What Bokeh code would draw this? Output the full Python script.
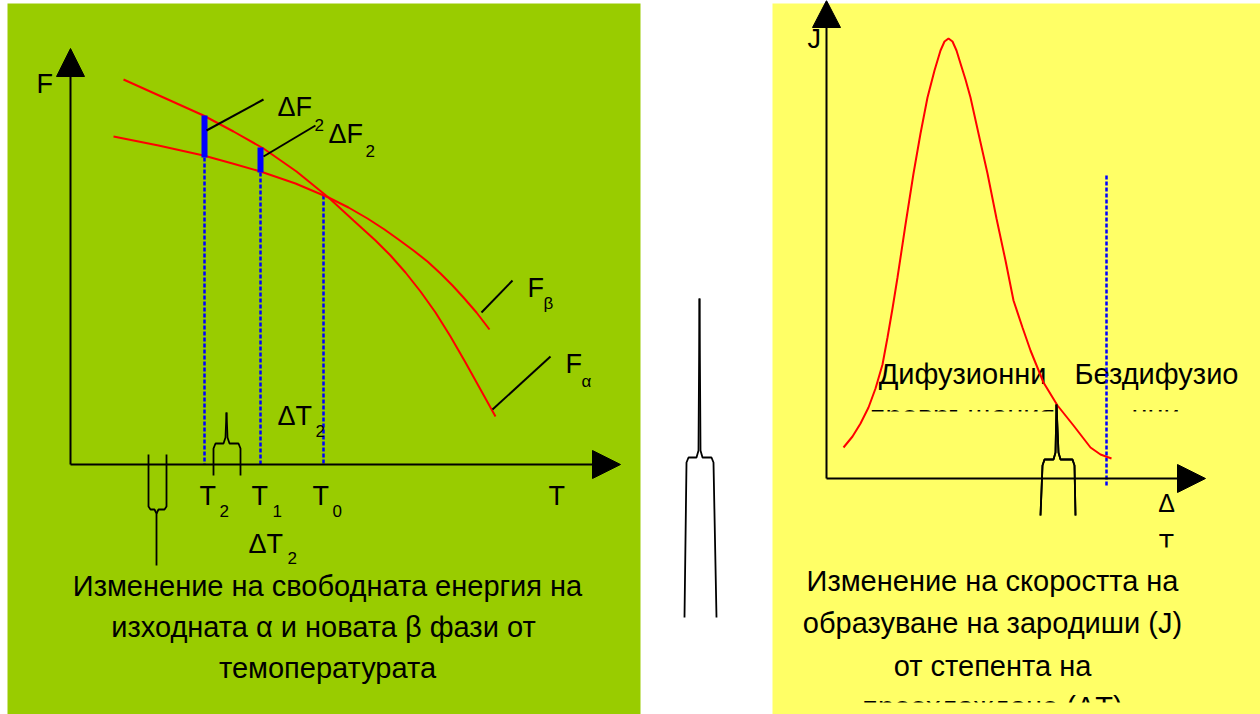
from bokeh.plotting import figure
from bokeh.models import Range1d
from bokeh.core.properties import value
from bokeh.embed import file_html
from bokeh.resources import INLINE

FONT = value("Liberation Sans")

# ---- Left panel: free energy F against temperature T (page pixel frame) ----
f_alpha_x = [123, 163, 203, 233, 263, 296, 328, 353, 375, 390, 405, 420, 435, 450, 465, 480, 495]
f_alpha_y = [79, 97, 115, 131, 148, 171, 197, 220, 240, 255, 272, 291, 312, 336, 362, 389, 416]
f_beta_x = [113, 158, 203, 232, 260, 295, 328, 348, 367, 384, 398, 413, 427, 440, 452, 463, 476, 489]
f_beta_y = [136, 145, 155, 163, 171, 183, 197, 207, 218, 229, 239, 250, 261, 273, 285, 297, 312, 329]

# temperatures T2, T1, T0 on the T axis and the F values the guides start from
t_marks = [204, 260, 323]
t_guide_top = [157, 172, 195]
# free-energy gaps ΔF at T2 and T1
gap_x = [204, 260]
gap_top = [115, 147]
gap_bottom = [157, 172]

# ---- Right panel: nucleation rate J against undercooling ΔT ----
j_x = [843, 852, 860, 868, 875, 882, 887, 892, 897, 905, 913, 920, 927, 934, 940, 944, 948,
       952, 956, 960, 965, 970, 978, 987, 996, 1005, 1013, 1022, 1030, 1043, 1057, 1073,
       1090, 1100, 1111]
j_y = [447, 436, 423, 407, 388, 364, 337, 308, 277, 224, 173, 133, 97, 70, 50, 41, 38,
       41, 50, 63, 79, 97, 133, 173, 218, 260, 300, 327, 350, 382, 405, 425,
       447, 454, 458]
j_limit_x = 1106

GREEN = "#99CC00"
YELLOW = "#FFFF66"
RED = "#FF0000"
BLUE = "#0000FF"

p = figure(width=1260, height=714, x_range=Range1d(0, 1260), y_range=Range1d(714, 0),
           min_border=0, toolbar_location=None, output_backend="svg")
p.axis.visible = False
p.grid.visible = False
p.outline_line_color = None
p.background_fill_color = "white"
p.border_fill_color = "white"

# panels
p.quad(left=[7, 772], right=[640, 1260], top=[3, 3], bottom=[714, 714],
       fill_color=[GREEN, YELLOW], line_color=None)


def label(x, base, s, size=27, align="left"):
    # the svg renderer sets text a little below the requested baseline; lift it
    p.text(x=[x], y=[base - 0.42 * size], text=[s], text_font=FONT,
           text_font_size=f"{size}px", text_baseline="alphabetic",
           text_align=align, text_color="black")


# clipped wrapped labels in the right panel (drawn first, partly hidden below)
label(962, 428, "превръщания", size=29, align="center")
label(1155, 428, "нни", size=29, align="center")
label(1166, 553, "T", size=25, align="center")
label(992, 719, "преохлаждане (ΔT)", size=29, align="center")
p.quad(left=[860, 1150, 780], right=[1190, 1185, 1260], top=[411, 547, 702],
       bottom=[438, 560, 714], fill_color=YELLOW, line_color=None)

# ---- left panel drawing ----
p.segment(x0=t_marks, y0=t_guide_top, x1=t_marks, y1=[464] * 3,
          line_color=BLUE, line_width=2.5, line_dash="4 2")
p.line(f_alpha_x, f_alpha_y, line_color=RED, line_width=2)
p.line(f_beta_x, f_beta_y, line_color=RED, line_width=2)
p.segment(x0=gap_x, y0=gap_top, x1=gap_x, y1=gap_bottom, line_color=BLUE, line_width=6)

# axes with arrow heads
p.segment(x0=[70, 70], y0=[76, 464], x1=[70, 592], y1=[464, 464],
          line_color="black", line_width=2)
p.patches(xs=[[56, 84, 70], [592, 592, 620]], ys=[[76, 76, 48], [450, 478, 464]],
          fill_color="black", line_color="black")

# leader lines
p.segment(x0=[206, 263, 481, 492], y0=[130, 156, 312, 409],
          x1=[263, 315, 512, 550], y1=[99, 125, 280, 356],
          line_color="black", line_width=2)

# braces
brace_xs = [
    [148, 148, 150, 154, 156, 156], [166, 166, 164, 158, 156],
    [213, 213, 215, 223, 225, 226], [240, 240, 238, 229, 227, 226],
    [684, 686, 688, 696, 698, 699], [716, 713, 711, 702, 700, 699],
    [1040, 1042, 1044, 1053, 1055, 1056], [1075, 1074, 1072, 1060, 1058, 1056],
]
brace_ys = [
    [454, 506, 509, 509, 513, 565], [454, 506, 509, 509, 513],
    [475, 448, 443, 443, 437, 412], [475, 448, 443, 443, 437, 412],
    [617, 462, 457, 457, 450, 298], [617, 462, 457, 457, 450, 298],
    [515, 465, 459, 459, 452, 404], [515, 465, 459, 459, 452, 404],
]
p.multi_line(xs=brace_xs, ys=brace_ys, line_color="black", line_width=1.8)

# left panel labels
label(36, 95, "F")
label(277, 118, "ΔF")
label(314, 132, "2", size=17)
label(328, 145, "ΔF")
label(365, 158, "2", size=17)
label(277, 427, "ΔT")
label(315, 438, "2", size=17)
label(199, 507, "T")
label(219, 518, "2", size=17)
label(251, 507, "T")
label(272, 518, "1", size=17)
label(312, 507, "T")
label(332, 518, "0", size=17)
label(548, 507, "T")
label(248, 555, "ΔT")
label(287, 565, "2", size=17)
label(527, 299, "F")
label(543, 310, "β", size=17)
label(565, 375, "F")
label(581, 388, "α", size=17)

label(327, 598, "Изменение на свободната енергия на", size=29, align="center")
label(327, 639, "изходната α и  новата β фази от", size=29, align="center")
label(327, 680, "темопературата", size=29, align="center")

# ---- right panel drawing ----
label(962, 386, "Дифузионни", size=29, align="center")
label(1156, 386, "Бездифузио", size=29, align="center")

p.segment(x0=[j_limit_x], y0=[175], x1=[j_limit_x], y1=[485],
          line_color=BLUE, line_width=2.5, line_dash="4 2")
p.line(j_x, j_y, line_color=RED, line_width=2)

p.segment(x0=[826, 826], y0=[27, 478], x1=[826, 1177], y1=[478, 478],
          line_color="black", line_width=2)
p.patches(xs=[[812, 840, 826], [1177, 1177, 1205]], ys=[[27, 27, 0], [464, 492, 478]],
          fill_color="black", line_color="black")
p.multi_line(xs=brace_xs[6:], ys=brace_ys[6:], line_color="black", line_width=1.8)

label(807, 50, "J")
label(1166, 513, "Δ", size=25, align="center")

label(992, 593, "Изменение на скоростта на", size=29, align="center")
label(992, 635, "образуване на зародиши (J)", size=29, align="center")
label(992, 678, "от степента на", size=29, align="center")

open("out.html", "w").write(file_html(p, INLINE))
